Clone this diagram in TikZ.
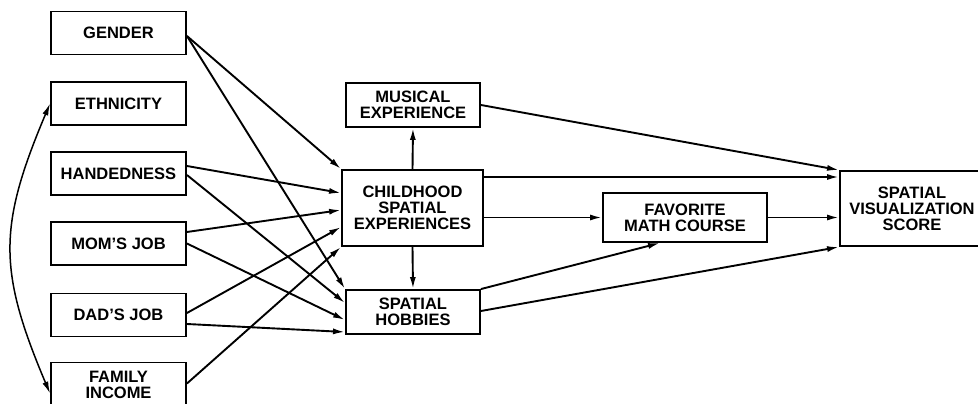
\documentclass[tikz,border=0pt]{standalone}
\usepackage{fontspec}
\setmainfont{Liberation Sans}
\usetikzlibrary{arrows.meta}
\begin{document}
\begin{tikzpicture}[x=1pt,y=-1pt,
  box/.style={draw,line width=1.9pt,inner sep=0pt,align=center,
    font=\fontsize{16.5}{16}\selectfont\bfseries},
  arr/.style={line width=1.9pt,-{Latex[length=12pt,width=6pt]}},
  darr/.style={line width=1.5pt,{Latex[length=12pt,width=6pt]}-{Latex[length=12pt,width=6pt]}}]
\useasboundingbox (0,0) rectangle (978,404);
\fill[white] (0,0) rectangle (978,404);
% left boxes
\node[box,minimum width=135pt,minimum height=43pt] (gender) at (118.5,33) {GENDER};
\node[box,minimum width=135pt,minimum height=43pt] (eth) at (118.5,103.5) {ETHNICITY};
\node[box,minimum width=135pt,minimum height=43pt] (hand) at (118.5,173.5) {HANDEDNESS};
\node[box,minimum width=135pt,minimum height=43pt] (mom) at (118.5,243.5) {MOM'S JOB};
\node[box,minimum width=135pt,minimum height=43pt] (dad) at (118.5,315) {DAD'S JOB};
\node[box,minimum width=135pt,minimum height=44pt] (fam) at (118.5,384.5) {FAMILY\\INCOME};
% middle
\node[box,minimum width=134pt,minimum height=44pt] (mus) at (413,105) {MUSICAL\\EXPERIENCE};
\node[box,minimum width=141pt,minimum height=76pt] (child) at (412.5,208) {CHILDHOOD\\SPATIAL\\EXPERIENCES};
\node[box,minimum width=134pt,minimum height=44pt] (hob) at (413,312) {SPATIAL\\HOBBIES};
\node[box,minimum width=164pt,minimum height=49pt] (fmc) at (685,217.5) {FAVORITE\\MATH COURSE};
\node[box,minimum width=144pt,minimum height=75pt] (svs) at (912,208.5) {SPATIAL\\VISUALIZATION\\SCORE};
% left arrows
\draw[arr] ([yshift=-3pt]gender.east) -- (child.north west);
\draw[arr] ([yshift=-3pt]gender.east) -- (hob.north west);
\draw[arr] ([yshift=7.5pt]hand.east) -- ([yshift=15pt]child.west);
\draw[arr] ([yshift=-1.5pt]hand.east) -- ([yshift=9pt]hob.west);
\draw[arr] ([yshift=11.5pt]mom.east) -- ([yshift=-2pt]child.west);
\draw[arr] (mom.east) -- ([yshift=-8pt]hob.west);
\draw[arr] ([yshift=2pt]dad.east) -- ([yshift=-19pt]child.west);
\draw[arr] ([yshift=-9pt]dad.east) -- ([yshift=-20pt]hob.west);
\draw[arr] ([yshift=1pt]fam.east) -- (child.south west);
\draw[darr] (eth.west) .. controls +(-52,123) and +(-52,-123) .. ([yshift=-9pt]fam.west);
% middle arrows
\draw[arr] (child.north) -- (mus.south);
\draw[arr] (child.south) -- (hob.north);
\draw[arr] (mus.east) -- (svs.north west);
\draw[arr] ([yshift=31pt]child.east) -- ([yshift=31.5pt]svs.west);
\draw[arr] (fmc.west -| child.east) -- (fmc.west);
\draw[arr] (fmc.east) -- (svs.west |- fmc.east);
\draw[arr] (hob.north east) -- ([xshift=-25pt]fmc.south);
\draw[arr] ([yshift=1pt]hob.east) -- (svs.south west);
\end{tikzpicture}
\end{document}
